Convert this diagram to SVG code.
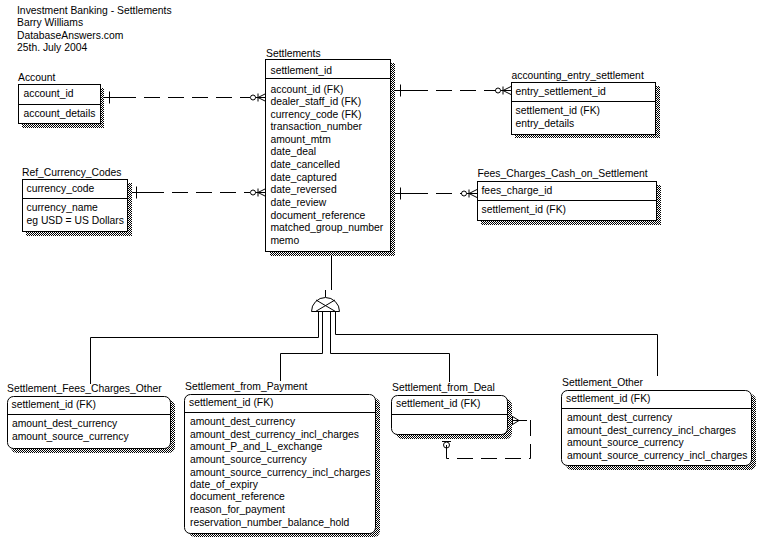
<svg xmlns="http://www.w3.org/2000/svg" width="776" height="555" viewBox="0 0 776 555">
<style>
text{font-family:"Liberation Sans",Arial,sans-serif;font-size:10.35px;fill:#000}
.box{fill:#fff;stroke:#000;stroke-width:1}
.shadow{fill:url(#hatch);stroke:none}
.div{stroke:#000;stroke-width:1}
.rel{fill:none;stroke:#000;stroke-width:1}
.dash{fill:none;stroke:#000;stroke-width:1;stroke-dasharray:16,8}
</style>
<defs>
<pattern id="hatch" width="2" height="2" patternUnits="userSpaceOnUse">
<rect width="2" height="2" fill="#fff"/>
<rect width="1" height="1" fill="#000"/>
<rect x="1" y="1" width="1" height="1" fill="#000"/>
</pattern>
<g id="zeroMany" fill="none" stroke="#000" stroke-width="1">
<circle cx="-13" cy="0" r="2.5"/>
<line x1="-10.5" y1="0" x2="0" y2="0"/>
<line x1="-8" y1="-4" x2="-8" y2="4"/>
<line x1="-8" y1="0" x2="0" y2="-4"/>
<line x1="-8" y1="0" x2="0" y2="4"/>
</g>
<line id="oneTick" x1="0" y1="-6" x2="0" y2="6" stroke="#000" stroke-width="1"/>
</defs>
<rect width="776" height="555" fill="#fff"/>

<g id="header">
<text x="17" y="14">Investment Banking - Settlements</text>
<text x="17" y="26">Barry Williams</text>
<text x="17" y="38.5">DatabaseAnswers.com</text>
<text x="17" y="51">25th. July 2004</text>
</g>

<g id="connectors">
<line class="rel" x1="104" y1="97.5" x2="120" y2="97.5"/>
<line class="dash" x1="120" y1="97.5" x2="250" y2="97.5"/>
<use href="#oneTick" x="109.5" y="97.5"/>
<use href="#zeroMany" x="266" y="97.5"/>
<line class="rel" x1="132" y1="192.5" x2="148" y2="192.5"/>
<line class="dash" x1="148" y1="192.5" x2="250" y2="192.5"/>
<use href="#oneTick" x="136.5" y="192.5"/>
<use href="#zeroMany" x="266" y="192.5"/>
<line class="rel" x1="395" y1="90.5" x2="412" y2="90.5"/>
<line class="dash" x1="412" y1="90.5" x2="496" y2="90.5"/>
<use href="#oneTick" x="400.5" y="90.5"/>
<use href="#zeroMany" x="511" y="90.5"/>
<line class="rel" x1="395" y1="193.5" x2="412" y2="193.5"/>
<line class="dash" x1="412" y1="193.5" x2="462" y2="193.5"/>
<use href="#oneTick" x="400.5" y="193.5"/>
<use href="#zeroMany" x="477" y="193.5"/>
<line class="rel" x1="331.5" y1="252" x2="331.5" y2="290"/>
<line class="rel" x1="325.5" y1="290" x2="325.5" y2="297"/>
<path class="rel" d="M311.5,311.5 A14,14 0 0 1 339.5,311.5 Z"/>
<line class="rel" x1="316" y1="300" x2="335.5" y2="311.5"/>
<line class="rel" x1="335" y1="300" x2="315.5" y2="311.5"/>
<polyline class="rel" points="318.5,311.5 318.5,337.5 90.5,337.5 90.5,384"/>
<polyline class="rel" points="322.5,311.5 322.5,353.5 280.5,353.5 280.5,381"/>
<polyline class="rel" points="330.5,311.5 330.5,353.5 449.5,353.5 449.5,382"/>
<polyline class="rel" points="335.5,311.5 335.5,334.5 657.5,334.5 657.5,376"/>
<line class="rel" x1="512" y1="420.5" x2="527" y2="420.5"/>
<line class="rel" x1="512.5" y1="416" x2="512.5" y2="425"/>
<polyline class="rel" points="512.5,416.5 519,420.5 512.5,424.5"/>
<polyline class="dash" points="530.5,420 530.5,458.5 446.5,458.5 446.5,439"/>
<line class="rel" x1="446.5" y1="439" x2="446.5" y2="435"/>
<line class="rel" x1="442" y1="441.5" x2="451" y2="441.5"/>
<circle class="rel" cx="446.5" cy="445" r="3"/>
</g>

<g id="Account">
<text x="18" y="81">Account</text>
<rect class="shadow" x="22" y="88" width="82" height="40"/>
<rect class="box" x="18.5" y="84.5" width="82" height="39"/>
<line class="div" x1="18.5" y1="104.5" x2="100.5" y2="104.5"/>
<text x="23.5" y="97">account_id</text>
<text x="23.5" y="116.5">account_details</text>
</g>

<g id="Ref_Currency_Codes">
<text x="22" y="176">Ref_Currency_Codes</text>
<rect class="shadow" x="26" y="183" width="106" height="53"/>
<rect class="box" x="22.5" y="179.5" width="105" height="52"/>
<line class="div" x1="22.5" y1="198.5" x2="127.5" y2="198.5"/>
<text x="26.5" y="192">currency_code</text>
<text x="26.5" y="211">currency_name</text>
<text x="26.5" y="223.5">eg USD = US Dollars</text>
</g>

<g id="Settlements">
<text x="266" y="57">Settlements</text>
<rect class="shadow" x="270" y="63" width="125" height="193"/>
<rect class="box" x="265.5" y="59.5" width="125" height="192"/>
<line class="div" x1="265.5" y1="78.5" x2="390.5" y2="78.5"/>
<text x="270.5" y="73.5">settlement_id</text>
<text x="270.5" y="92.5">account_id (FK)</text>
<text x="270.5" y="105">dealer_staff_id (FK)</text>
<text x="270.5" y="117.5">currency_code (FK)</text>
<text x="270.5" y="130">transaction_number</text>
<text x="270.5" y="142.5">amount_mtm</text>
<text x="270.5" y="155">date_deal</text>
<text x="270.5" y="168">date_cancelled</text>
<text x="270.5" y="180.5">date_captured</text>
<text x="270.5" y="193">date_reversed</text>
<text x="270.5" y="206">date_review</text>
<text x="270.5" y="218.5">document_reference</text>
<text x="270.5" y="231">matched_group_number</text>
<text x="270.5" y="244">memo</text>
</g>

<g id="accounting_entry_settlement">
<text x="511.5" y="78.5">accounting_entry_settlement</text>
<rect class="shadow" x="515" y="86" width="145" height="52"/>
<rect class="box" x="511.5" y="82.5" width="144" height="52"/>
<line class="div" x1="511.5" y1="101.5" x2="655.5" y2="101.5"/>
<text x="515.5" y="95">entry_settlement_id</text>
<text x="515.5" y="114">settlement_id (FK)</text>
<text x="515.5" y="126.5">entry_details</text>
</g>

<g id="Fees_Charges_Cash_on_Settlement">
<text x="477.5" y="177">Fees_Charges_Cash_on_Settlement</text>
<rect class="shadow" x="481" y="185" width="180" height="40"/>
<rect class="box" x="477.5" y="181.5" width="179" height="39"/>
<line class="div" x1="477.5" y1="200.5" x2="656.5" y2="200.5"/>
<text x="481.5" y="193.5">fees_charge_id</text>
<text x="481.5" y="212.5">settlement_id (FK)</text>
</g>

<g id="Settlement_Fees_Charges_Other">
<text x="7" y="392">Settlement_Fees_Charges_Other</text>
<rect class="shadow" x="11" y="400" width="164" height="53" rx="6"/>
<rect class="box" x="7.5" y="396.5" width="163" height="52" rx="6"/>
<line class="div" x1="7.5" y1="414.5" x2="170.5" y2="414.5"/>
<text x="11.5" y="408">settlement_id (FK)</text>
<text x="12" y="427">amount_dest_currency</text>
<text x="12" y="439.5">amount_source_currency</text>
</g>

<g id="Settlement_from_Payment">
<text x="185" y="389.5">Settlement_from_Payment</text>
<rect class="shadow" x="189" y="398" width="191" height="139" rx="6"/>
<rect class="box" x="184.5" y="394.5" width="191" height="139" rx="6"/>
<line class="div" x1="184.5" y1="412.5" x2="375.5" y2="412.5"/>
<text x="189" y="406">settlement_id (FK)</text>
<text x="190" y="424.5">amount_dest_currency</text>
<text x="190" y="437.5">amount_dest_currency_incl_charges</text>
<text x="190" y="450">amount_P_and_L_exchange</text>
<text x="190" y="462.5">amount_source_currency</text>
<text x="190" y="475.5">amount_source_currency_incl_charges</text>
<text x="190" y="487.5">date_of_expiry</text>
<text x="190" y="500">document_reference</text>
<text x="190" y="513">reason_for_payment</text>
<text x="190" y="525.5">reservation_number_balance_hold</text>
</g>

<g id="Settlement_from_Deal">
<text x="392" y="391">Settlement_from_Deal</text>
<rect class="shadow" x="396" y="399" width="116" height="40" rx="6"/>
<rect class="box" x="391.5" y="395.5" width="116" height="39" rx="6"/>
<line class="div" x1="391.5" y1="414.5" x2="507.5" y2="414.5"/>
<text x="396" y="406.5">settlement_id (FK)</text>
</g>

<g id="Settlement_Other">
<text x="562" y="385.5">Settlement_Other</text>
<rect class="shadow" x="566" y="394" width="190" height="76" rx="6"/>
<rect class="box" x="561.5" y="390.5" width="190" height="75" rx="6"/>
<line class="div" x1="561.5" y1="408.5" x2="751.5" y2="408.5"/>
<text x="566" y="402">settlement_id (FK)</text>
<text x="567" y="421">amount_dest_currency</text>
<text x="567" y="433.5">amount_dest_currency_incl_charges</text>
<text x="567" y="446">amount_source_currency</text>
<text x="567" y="458.5">amount_source_currency_incl_charges</text>
</g>
</svg>
